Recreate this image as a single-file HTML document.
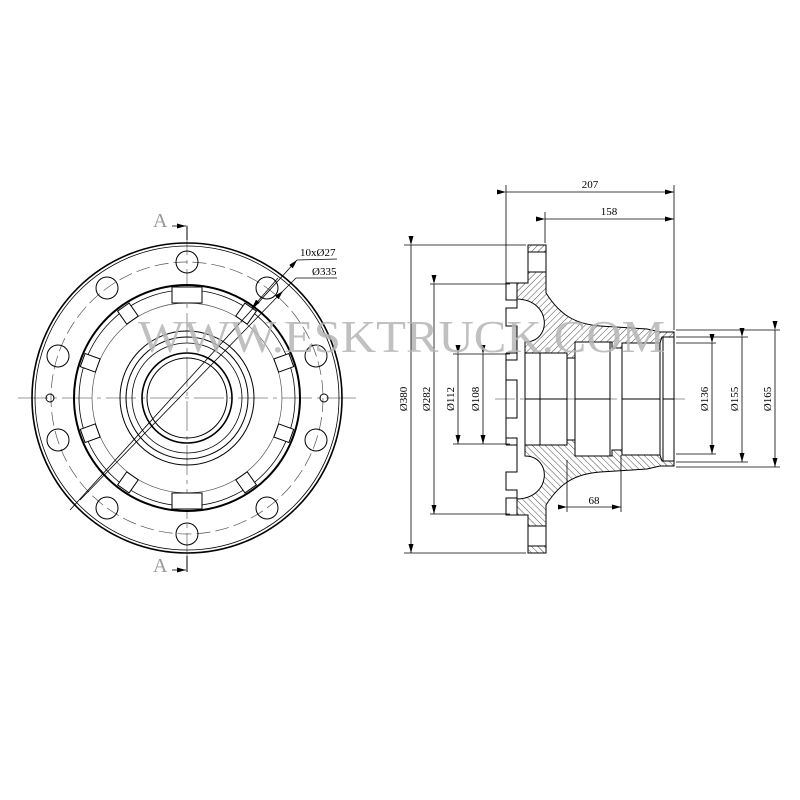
<!DOCTYPE html>
<html><head><meta charset="utf-8"><style>html,body{margin:0;padding:0;background:#fff}svg{display:block}</style></head>
<body>
<svg width="800" height="800" viewBox="0 0 800 800" xmlns="http://www.w3.org/2000/svg" font-family="Liberation Serif, serif">
<defs>
<pattern id="h" width="4.5" height="4.5" patternUnits="userSpaceOnUse" patternTransform="rotate(45)">
<line x1="0" y1="0" x2="0" y2="4.5" stroke="#222" stroke-width="0.8"/>
</pattern>
<marker id="ar" markerWidth="9" markerHeight="5" refX="9" refY="2.5" orient="auto" markerUnits="userSpaceOnUse"><path d="M0,0 L9,2.5 L0,5 Z" fill="#000"/></marker>
</defs>

<!-- LEFT VIEW -->
<g fill="none" stroke="#000">
<line x1="18" y1="398" x2="356" y2="398" stroke="#777" stroke-width="0.8" stroke-dasharray="30,5,4,5"/>
<line x1="187" y1="225" x2="187" y2="572" stroke="#777" stroke-width="0.8" stroke-dasharray="30,5,4,5"/>
<circle cx="187" cy="398" r="155" stroke-width="1.6"/>
<circle cx="187" cy="398" r="152" stroke-width="0.8"/>
<circle cx="187" cy="398" r="136" stroke-width="0.7" stroke="#555" stroke-dasharray="14,5"/>
<circle cx="187" cy="398" r="113" stroke-width="2"/>
<circle cx="187" cy="398" r="108" stroke-width="0.8"/>
<circle cx="187" cy="398" r="95" stroke-width="0.7" stroke="#555"/>
<circle cx="187" cy="398" r="67" stroke-width="1"/>
<circle cx="187" cy="398" r="61" stroke-width="1"/>
<circle cx="187" cy="398" r="55" stroke-width="0.8"/>
<circle cx="187" cy="398" r="45" stroke-width="1.6"/>
<circle cx="187" cy="398" r="40" stroke-width="1"/>
<g stroke-width="1">
<circle cx="187" cy="262" r="11"/><circle cx="187" cy="534" r="11"/>
<circle cx="107" cy="288" r="11"/><circle cx="267" cy="288" r="11"/>
<circle cx="107" cy="508" r="11"/><circle cx="267" cy="508" r="11"/>
<circle cx="58" cy="356" r="11"/><circle cx="316" cy="356" r="11"/>
<circle cx="58" cy="440" r="11"/><circle cx="316" cy="440" r="11"/>
<circle cx="50" cy="398" r="4"/><circle cx="324" cy="398" r="4"/>
</g>
<g stroke-width="1" fill="#fff">
<g transform="rotate(0 187 398)"><rect x="172" y="287" width="30" height="16"/></g>
<g transform="rotate(35 187 398)"><rect x="180" y="287" width="14" height="16"/></g>
<g transform="rotate(70 187 398)"><rect x="180" y="287" width="14" height="16"/></g>
<g transform="rotate(110 187 398)"><rect x="180" y="287" width="14" height="16"/></g>
<g transform="rotate(145 187 398)"><rect x="180" y="287" width="14" height="16"/></g>
<g transform="rotate(180 187 398)"><rect x="172" y="287" width="30" height="16"/></g>
<g transform="rotate(-35 187 398)"><rect x="180" y="287" width="14" height="16"/></g>
<g transform="rotate(-70 187 398)"><rect x="180" y="287" width="14" height="16"/></g>
<g transform="rotate(-110 187 398)"><rect x="180" y="287" width="14" height="16"/></g>
<g transform="rotate(-145 187 398)"><rect x="180" y="287" width="14" height="16"/></g>
</g>
<line x1="70" y1="510" x2="297" y2="260" stroke-width="0.8" marker-end="url(#ar)"/>
<line x1="297" y1="260" x2="337" y2="259" stroke-width="0.8"/>
<line x1="80" y1="500" x2="283" y2="291" stroke-width="0.8" marker-end="url(#ar)"/>
<line x1="283" y1="291" x2="296" y2="278" stroke-width="0.8"/>
<line x1="296" y1="278" x2="337" y2="278" stroke-width="0.8"/>
<line x1="278" y1="278" x2="252" y2="308" stroke-width="0.8" marker-end="url(#ar)"/>
<line x1="187" y1="226" x2="187" y2="240" stroke-width="1"/>
<line x1="172" y1="226" x2="186" y2="226" stroke-width="0.8" marker-end="url(#ar)"/>
<line x1="187" y1="556" x2="187" y2="572" stroke-width="1"/>
<line x1="172" y1="570" x2="186" y2="570" stroke-width="0.8" marker-end="url(#ar)"/>
</g>
<g font-size="11" fill="#000">
<text x="300" y="256">10xØ27</text>
<text x="312" y="275">Ø335</text>
</g>
<text x="153" y="227" font-size="20" fill="#999">A</text>
<text x="153" y="572" font-size="20" fill="#999">A</text>

<!-- RIGHT VIEW -->
<line x1="495" y1="399" x2="690" y2="399" stroke="#777" stroke-width="0.8" stroke-dasharray="20,5,4,5"/>
<g id="half" stroke="#000" stroke-width="1">
<path d="M528,245 L546,245 L546,252 L528,252 Z" fill="url(#h)"/>
<path d="M528,252 L546,252 L546,272 L528,272" fill="none"/>
<path d="M528,272 L546,272 L546,293 C560,315 575,324 600,326 L647,329 L660,332 L674,332 L674,337 L662,337 L660,343 L622,343 L622,348 L612,348 L612,342 L575,342 L575,358 L567,358 L567,353 L525,353 L525,342 C552,342 552,300 517,299 L517,283 L528,283 Z" fill="url(#h)"/>
<path d="M528,245 L528,283 L517,283 L506,283 L506,300 L517,300 L517,308 L506,308 L506,326 L517,326 L517,353 M506,353 L517,353 L517,360 L506,360" fill="none"/>
<path d="M506,380 L517,380 L517,399" fill="none"/>
<rect x="525" y="353" width="42" height="46" fill="#fff"/>
<line x1="540" y1="353" x2="540" y2="399"/>
<rect x="575" y="342" width="35" height="57" fill="#fff"/>
<rect x="622" y="343" width="38" height="56" fill="#fff"/>
<rect x="663" y="337" width="11" height="62" fill="#fff"/>
<line x1="567" y1="358" x2="575" y2="358"/>
</g>
<use href="#half" transform="translate(0,798) scale(1,-1)"/>
<line x1="506" y1="353" x2="506" y2="445" stroke="#000"/>

<g stroke="#000" stroke-width="0.8" fill="none">
<line x1="506" y1="185" x2="506" y2="283"/>
<line x1="674" y1="185" x2="674" y2="330"/>
<line x1="545" y1="212" x2="545" y2="243"/>
<line x1="506" y1="192" x2="674" y2="192" marker-start="url(#ar)" marker-end="url(#ar)"/>
<line x1="545" y1="219" x2="674" y2="219" marker-start="url(#ar)" marker-end="url(#ar)"/>
<line x1="404" y1="245" x2="526" y2="245"/><line x1="404" y1="553" x2="526" y2="553"/>
<line x1="411" y1="245" x2="411" y2="553" marker-start="url(#ar)" marker-end="url(#ar)"/>
<line x1="430" y1="284" x2="510" y2="284"/><line x1="430" y1="514" x2="510" y2="514"/>
<line x1="434" y1="284" x2="434" y2="514" marker-start="url(#ar)" marker-end="url(#ar)"/>
<line x1="453" y1="354" x2="510" y2="354"/><line x1="453" y1="444" x2="510" y2="444"/>
<line x1="458" y1="354" x2="458" y2="444" marker-start="url(#ar)" marker-end="url(#ar)"/>
<line x1="483" y1="354" x2="483" y2="444" marker-start="url(#ar)" marker-end="url(#ar)"/>
<line x1="567" y1="460" x2="567" y2="512"/><line x1="621" y1="455" x2="621" y2="512"/>
<line x1="567" y1="507" x2="621" y2="507" marker-start="url(#ar)" marker-end="url(#ar)"/>
<line x1="676" y1="330" x2="780" y2="330"/><line x1="676" y1="467" x2="780" y2="467"/>
<line x1="676" y1="337" x2="748" y2="337"/><line x1="676" y1="462" x2="748" y2="462"/>
<line x1="676" y1="343" x2="716" y2="343"/><line x1="676" y1="454" x2="716" y2="454"/>
<line x1="775" y1="330" x2="775" y2="467" marker-start="url(#ar)" marker-end="url(#ar)"/>
<line x1="742" y1="337" x2="742" y2="462" marker-start="url(#ar)" marker-end="url(#ar)"/>
<line x1="712" y1="343" x2="712" y2="454" marker-start="url(#ar)" marker-end="url(#ar)"/>
</g>
<g font-size="11" fill="#000">
<text x="590" y="188" text-anchor="middle">207</text>
<text x="609" y="215" text-anchor="middle">158</text>
<text x="594" y="504" text-anchor="middle">68</text>
<text transform="translate(407,399) rotate(-90)" text-anchor="middle">Ø380</text>
<text transform="translate(430,399) rotate(-90)" text-anchor="middle">Ø282</text>
<text transform="translate(454,399) rotate(-90)" text-anchor="middle">Ø112</text>
<text transform="translate(479,399) rotate(-90)" text-anchor="middle">Ø108</text>
<text transform="translate(708,399) rotate(-90)" text-anchor="middle">Ø136</text>
<text transform="translate(738,399) rotate(-90)" text-anchor="middle">Ø155</text>
<text transform="translate(771,399) rotate(-90)" text-anchor="middle">Ø165</text>
</g>

<text x="138" y="352" font-size="46" fill="#b5b5b5" fill-opacity="0.85" textLength="527" lengthAdjust="spacingAndGlyphs">WWW.ESKTRUCK.COM</text>
</svg>
</body></html>
